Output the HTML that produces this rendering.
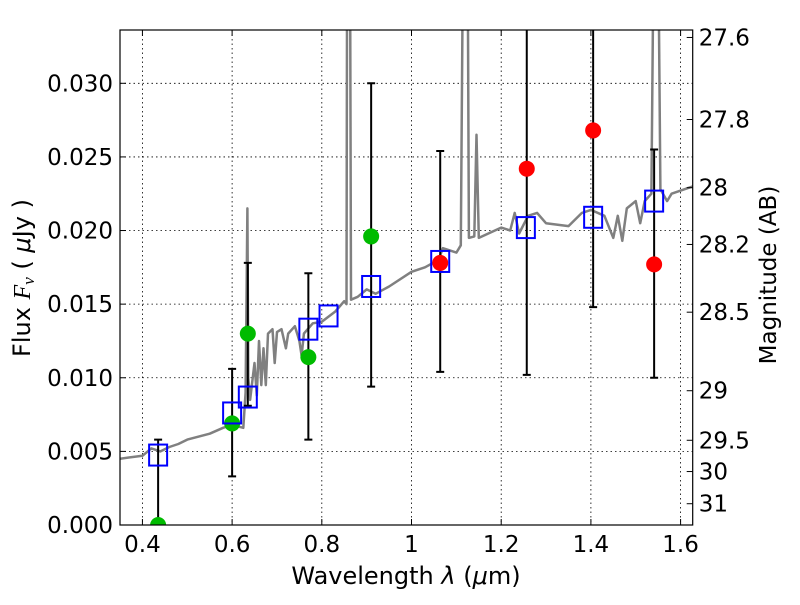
<!DOCTYPE html>
<html><head><meta charset="utf-8"><style>
body{margin:0;background:#fff}
svg text{font-family:"DejaVu Sans","Liberation Sans",sans-serif;fill:#000}
</style></head><body>
<svg id="c" width="800" height="600" xmlns="http://www.w3.org/2000/svg">
<rect width="800" height="600" fill="#fff"/>
<g id="grid"></g>
<g id="plot"></g>
<rect x="120" y="30" width="572.7" height="495" fill="none" stroke="#000" stroke-width="1.2"/>
<g id="axes"></g>
<text x="406" y="584" font-size="24" text-anchor="middle">Wavelength  <tspan font-style="italic">λ</tspan> (<tspan font-style="italic">μ</tspan>m)</text>
<text transform="translate(30,278) rotate(-90)" font-size="24" text-anchor="middle">Flux  <tspan font-family="Liberation Serif" font-style="italic">F</tspan><tspan font-family="Liberation Serif" font-style="italic" font-size="17" dy="4">ν</tspan><tspan dy="-4">  ( </tspan><tspan font-style="italic">μ</tspan>Jy )</text>
<text transform="translate(776,275) rotate(-90)" font-size="23" text-anchor="middle">Magnitude (AB)</text>
</svg>
<script>
const specLam=[0.35,0.40,0.42,0.44,0.46,0.48,0.50,0.55,0.58,0.60,0.625,0.63,0.634,0.636,0.64,0.65,0.655,0.66,0.665,0.67,0.675,0.68,0.69,0.695,0.70,0.71,0.72,0.725,0.74,0.75,0.755,0.76,0.78,0.80,0.83,0.85,0.855,0.857,0.862,0.865,0.88,0.90,0.92,0.95,1.0,1.03,1.06,1.07,1.10,1.11,1.115,1.125,1.128,1.14,1.145,1.15,1.20,1.22,1.23,1.24,1.26,1.28,1.30,1.35,1.38,1.40,1.43,1.45,1.46,1.47,1.48,1.50,1.51,1.52,1.535,1.54,1.55,1.555,1.57,1.58,1.627];
const specFlux=[0.0045,0.0047,0.0052,0.0050,0.0053,0.0055,0.0058,0.0062,0.0066,0.0068,0.0066,0.0090,0.0215,0.0100,0.0085,0.0110,0.0088,0.0125,0.0095,0.0120,0.0095,0.0130,0.0133,0.0110,0.0131,0.0133,0.0120,0.0130,0.0135,0.0125,0.0115,0.0130,0.0137,0.0138,0.0145,0.0152,0.0150,0.0500,0.0500,0.0153,0.0155,0.0160,0.0157,0.0162,0.0172,0.0175,0.0180,0.0188,0.0185,0.0190,0.0400,0.0400,0.0195,0.0196,0.0265,0.0195,0.0202,0.0200,0.0212,0.0198,0.0210,0.0212,0.0205,0.0203,0.0212,0.0214,0.0210,0.0195,0.0210,0.0193,0.0215,0.0220,0.0205,0.0220,0.0225,0.0400,0.0400,0.0228,0.0220,0.0225,0.0230];
const modelLam=[0.435,0.600,0.635,0.770,0.815,0.910,1.064,1.255,1.405,1.541];
const modelFlux=[0.00475,0.00761,0.00869,0.0133,0.0142,0.0162,0.0179,0.0202,0.0209,0.0220];
const obsLam=[0.435,0.600,0.635,0.770,0.910,1.064,1.257,1.405,1.541];
const obsFlux=[0.0000,0.0069,0.0130,0.0114,0.0196,0.0178,0.0242,0.0268,0.0177];
const obsHi=[0.0058,0.0106,0.0178,0.0171,0.0300,0.0254,0.0400,0.0400,0.0255];
const obsLo=[0.0000,0.0033,0.0081,0.0058,0.0094,0.0104,0.0102,0.0148,0.0100];
const obsColor=['#00bb00','#00bb00','#00bb00','#00bb00','#00bb00','#ff0000','#ff0000','#ff0000','#ff0000'];
const xTicks=[0.4,0.6,0.8,1.0,1.2,1.4,1.6];
const xTickLabels=['0.4','0.6','0.8','1','1.2','1.4','1.6'];
const yTicks=[0,0.005,0.010,0.015,0.020,0.025,0.030];
const yTickLabels=['0.000','0.005','0.010','0.015','0.020','0.025','0.030'];
const magTicks=[27.6,27.8,28,28.2,28.5,29,29.5,30,31];
const magTickLabels=['27.6','27.8','28','28.2','28.5','29','29.5','30','31'];

const L=120,R=692.7,T=30,B=525,X0=0.35,X1=1.627,Y0=0,Y1=0.03362;
const sx=v=>L+(v-X0)/(X1-X0)*(R-L);
const sy=v=>B-(v-Y0)/(Y1-Y0)*(B-T);
const NS='http://www.w3.org/2000/svg';
function mk(tag,at,parent){const e=document.createElementNS(NS,tag);for(const k in at)e.setAttribute(k,at[k]);document.getElementById(parent).appendChild(e);return e;}
const defs=document.createElementNS(NS,'defs');
defs.innerHTML='<clipPath id="cp"><rect x="120" y="30" width="572.7" height="495"/></clipPath>';
document.getElementById('c').prepend(defs);
document.getElementById('plot').setAttribute('clip-path','url(#cp)');

xTicks.forEach((v,i)=>{
 let g=mk('line',{x1:sx(v),x2:sx(v),y1:T,y2:B,stroke:'#000','stroke-width':0.8,'stroke-dasharray':'1.5,3'},'grid');
 
 mk('line',{x1:sx(v),x2:sx(v),y1:B,y2:B-6,stroke:'#000'},'axes');
 mk('line',{x1:sx(v),x2:sx(v),y1:T,y2:T+6,stroke:'#000'},'axes');
 let t=mk('text',{x:sx(v),y:B+27,'font-size':23,'text-anchor':'middle'},'axes');t.textContent=xTickLabels[i];
 
});
yTicks.forEach((v,i)=>{
 let g=mk('line',{x1:L,x2:R,y1:sy(v),y2:sy(v),stroke:'#000','stroke-width':0.8,'stroke-dasharray':'1.5,3'},'grid');
 
 mk('line',{x1:L,x2:L+6,y1:sy(v),y2:sy(v),stroke:'#000'},'axes');
 let t=mk('text',{x:L-7,y:sy(v)+8,'font-size':23,'text-anchor':'end'},'axes');t.textContent=yTickLabels[i];
 
});
magTicks.forEach((m,i)=>{
 const f=Math.pow(10,(23.9-m)/2.5);const y=sy(f);
 mk('line',{x1:R,x2:R-6,y1:y,y2:y,stroke:'#000'},'axes');
 let t=mk('text',{x:R+6,y:y+8,'font-size':23},'axes');t.textContent=magTickLabels[i];
 
});
let d=specLam.map((l,i)=>(i?'L':'M')+sx(l).toFixed(1)+','+sy(specFlux[i]).toFixed(1)).join('');
let sp=mk('path',{d:d,fill:'none',stroke:'#808080','stroke-width':2.5,'stroke-linejoin':'round'},'plot');

obsLam.forEach((l,i)=>{
 const x=sx(l),y1=sy(obsHi[i]),y2=sy(obsLo[i]);
 let e=mk('path',{d:`M${x},${y1}L${x},${y2}M${x-4},${y1}L${x+4},${y1}M${x-4},${y2}L${x+4},${y2}`,stroke:'#000','stroke-width':2,fill:'none'},'plot');
 
});
obsLam.forEach((l,i)=>{
 let c=mk('circle',{cx:sx(l),cy:sy(obsFlux[i]),r:8,fill:obsColor[i]},'plot');
 
});
modelLam.forEach((l,i)=>{
 let r=mk('rect',{x:sx(l)-9,y:sy(modelFlux[i])-10.5,width:18,height:21,fill:'none',stroke:'#0000ff','stroke-width':2},'plot');
 
});
</script>
</body></html>
